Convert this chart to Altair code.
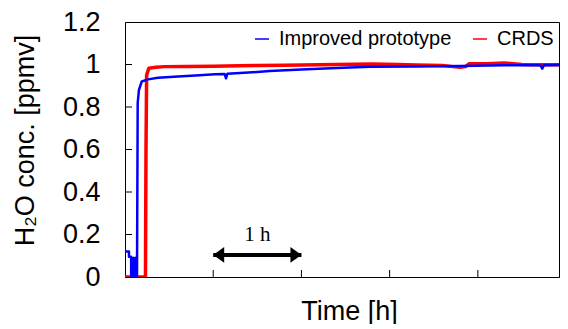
import altair as alt
import pandas as pd

# ---- data ----
blue_t = [0.0, 0.045, 0.045, 0.07, 0.07, 0.08, 0.09, 0.10, 0.11, 0.12, 0.13, 0.136,
          0.144, 0.158, 0.19, 0.26, 0.374, 0.6, 0.8, 1.02, 1.13, 1.145, 1.16, 1.4, 1.64,
          2.0, 2.4, 2.78, 3.3, 3.8, 4.3, 4.71, 4.73, 4.75, 5.0]
blue_v = [0.12, 0.12, 0.095, 0.095, 0.0, 0.09, 0.0, 0.09, 0.0, 0.09, 0.0, 0.0,
          0.82, 0.88, 0.92, 0.93, 0.938, 0.943, 0.948, 0.954, 0.955, 0.935, 0.956, 0.962, 0.969,
          0.976, 0.983, 0.989, 0.991, 0.993, 0.996, 0.997, 0.98, 0.997, 0.998]

red_t = [0.0, 0.232, 0.238, 0.245, 0.27, 0.35, 0.45, 0.7, 1.0, 1.3, 1.5, 1.8, 2.0, 2.4,
         2.8, 3.1, 3.3, 3.6, 3.72, 3.8, 3.86, 3.9, 4.1, 4.3, 4.5, 4.7, 5.0]
red_v = [0.0, 0.0, 0.6, 0.95, 0.982, 0.987, 0.99, 0.991, 0.992, 0.994, 0.995, 0.996, 0.998, 1.0,
         1.002, 1.0, 0.998, 0.995, 0.99, 0.987, 0.99, 1.003, 1.004, 1.007, 1.0, 0.999, 0.998]

series = ["Improved prototype", "CRDS"]
colors = ["#0000ff", "#ff0000"]

y_ticks = [0.2, 0.4, 0.6, 0.8, 1.0]
x_ticks = [1, 2, 3, 4]
y_labels = [0, 0.2, 0.4, 0.6, 0.8, 1.0, 1.2]
x_max = 4.92  # visible end of the time axis (the reference is cropped at the right)

arrow_start, arrow_end, arrow_y = 1.0, 2.0, 0.104
arrow_label = "1 h"

blue_df = pd.DataFrame({"t": blue_t, "v": blue_v, "s": series[0], "o": range(len(blue_t))})
red_df = pd.DataFrame({"t": red_t, "v": red_v, "s": series[1], "o": range(len(red_t))})

FONT = "Liberation Sans"
W, H = 434, 255

xscale = alt.Scale(domain=[0, x_max], nice=False, zero=False)
yscale = alt.Scale(domain=[0, 1.2], nice=False)

x_axis = alt.Axis(title="Time [h]", labels=False, ticks=False, grid=False,
                  domainColor="black", titleFont=FONT, titleFontSize=27,
                  titleFontWeight="normal", titleColor="black",
                  titleX=224, titleY=42, titleBaseline="alphabetic", titleAlign="center")
y_axis = alt.Axis(title="H₂O conc. [ppmv]", values=y_labels, format="~g", ticks=False, tickSize=0,
                  grid=False, domainColor="black", labelFont=FONT, labelFontSize=27,
                  labelColor="black", labelPadding=25,
                  titleFont=FONT, titleFontSize=27, titleFontWeight="normal", titleColor="black",
                  titleAngle=270, titleX=-92, titleY=118, titleBaseline="alphabetic",
                  titleAlign="center")

color = alt.Color("s:N", scale=alt.Scale(domain=series, range=colors),
                  legend=alt.Legend(title=None, orient="none", legendX=127, legendY=7,
                                    direction="horizontal", symbolType="stroke",
                                    symbolSize=196, symbolStrokeWidth=1.5,
                                    labelFont=FONT, labelFontSize=20, labelColor="black",
                                    labelLimit=400, labelOffset=7, columnPadding=18, padding=0))

red_line = alt.Chart(red_df).mark_line(strokeWidth=3.5, strokeJoin="round", clip=True).encode(
    x=alt.X("t:Q", scale=xscale, axis=x_axis),
    y=alt.Y("v:Q", scale=yscale, axis=y_axis),
    color=color, order="o:Q")

blue_line = alt.Chart(blue_df).mark_line(strokeWidth=2.5, strokeJoin="round", clip=True).encode(
    x=alt.X("t:Q", scale=xscale),
    y=alt.Y("v:Q", scale=yscale),
    color=color, order="o:Q")

ytick_df = pd.DataFrame({"v": y_ticks})
ytick_layer = alt.Chart(ytick_df).mark_rule(color="black", strokeWidth=1).encode(
    x=alt.value(0), x2=alt.value(7), y=alt.Y("v:Q", scale=yscale))

xtick_df = pd.DataFrame({"t": x_ticks})
xtick_layer = alt.Chart(xtick_df).mark_rule(color="black", strokeWidth=1).encode(
    x=alt.X("t:Q", scale=xscale), y=alt.value(H), y2=alt.value(H - 7))

shaft_df = pd.DataFrame({"a": [arrow_start], "b": [arrow_end], "y": [arrow_y]})
shaft = alt.Chart(shaft_df).mark_rule(color="black", strokeWidth=4).encode(
    x=alt.X("a:Q", scale=xscale), x2="b:Q", y=alt.Y("y:Q", scale=yscale))

lhead = alt.Chart(pd.DataFrame({"x": [arrow_start], "y": [arrow_y]})).mark_point(
    shape="M0,0 L1,-0.72 L1,0.72 Z", filled=True, color="black", opacity=1, size=484,
    strokeWidth=0).encode(x=alt.X("x:Q", scale=xscale), y=alt.Y("y:Q", scale=yscale))
rhead = alt.Chart(pd.DataFrame({"x": [arrow_end], "y": [arrow_y]})).mark_point(
    shape="M0,0 L-1,-0.72 L-1,0.72 Z", filled=True, color="black", opacity=1, size=484,
    strokeWidth=0).encode(x=alt.X("x:Q", scale=xscale), y=alt.Y("y:Q", scale=yscale))

label_df = pd.DataFrame({"x": [(arrow_start + arrow_end) / 2], "y": [0.17], "txt": [arrow_label]})
label = alt.Chart(label_df).mark_text(font="Liberation Serif", fontSize=21, color="black",
                                      baseline="alphabetic", align="center").encode(
    x=alt.X("x:Q", scale=xscale), y=alt.Y("y:Q", scale=yscale), text="txt:N")

chart = alt.layer(red_line, blue_line, ytick_layer, xtick_layer, shaft, lhead, rhead, label).properties(
    width=W, height=H,
    autosize=alt.AutoSizeParams(type="none"),
    padding={"left": 117, "top": 14, "right": 1, "bottom": 47},
    background="white",
).configure_view(stroke="black", strokeWidth=1)

chart.save("out.html", embed_options={"renderer": "svg", "actions": False})
